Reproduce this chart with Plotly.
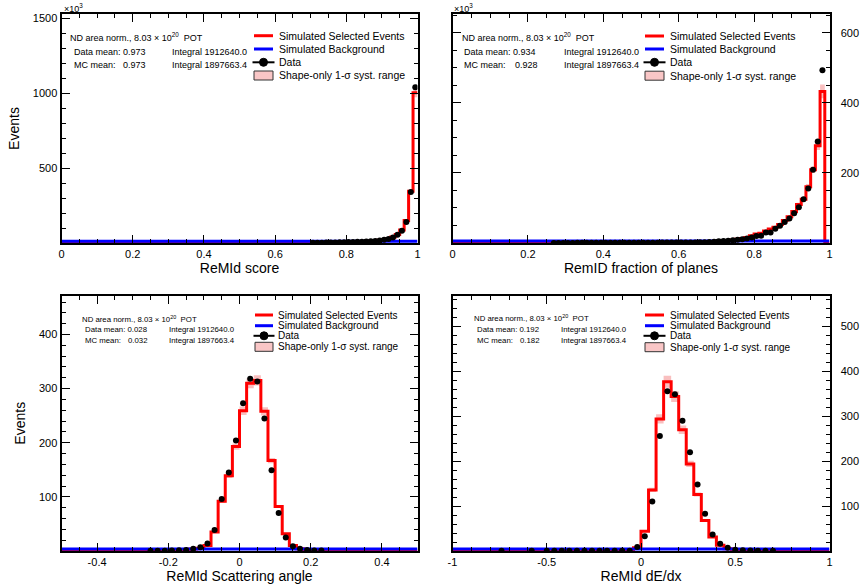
import numpy as np
import plotly.graph_objects as go

W, H = 868, 585
FONT = "Liberation Sans, Arial, Helvetica, sans-serif"

# ---------------- data ----------------
# Top-left: ReMId score (80 bins on [0,1]), events in units of 10^3
TL_NBINS, TL_LO, TL_HI = 80, 0.0, 1.0
TL_DATA_FIRST = 56
TL_DATA = [1.5, 2, 2.5, 3, 3.5, 4, 4.5, 5, 6, 7, 8, 9, 10, 12, 14, 17, 21, 27, 36, 55, 82, 140, 340, 1038]
TL_MC_FIRST = 56
TL_MC = [2, 2.5, 3, 3.5, 4, 4.5, 5, 5.5, 6.5, 7.5, 8.5, 9.5, 11, 13, 15, 18, 23, 29, 40, 57, 86, 150, 345, 1002]
TL_BKG = 12.0
TL_SYST = 0.03

# Top-right: RemID fraction of planes (80 bins on [0,1]), units of 10^3
TR_NBINS, TR_LO, TR_HI = 80, 0.0, 1.0
TR_DATA_FIRST = 21
TR_DATA = [0.3, 0.3, 0.3, 0.35, 0.35, 0.4, 0.4, 0.45, 0.45, 0.5, 0.5, 0.55, 0.6, 0.6, 0.65, 0.7, 0.75, 0.8, 0.85, 0.9,
           0.95, 1.0, 1.05, 1.1, 1.2, 1.25, 1.3, 1.4, 1.5, 1.6, 1.7,
           1.9, 2.4, 2.9, 3.8, 4.8, 5.7, 6.7, 7.6, 9.5, 11, 13, 16, 20, 21, 30, 30, 41, 49, 60, 70, 85, 102, 125, 156,
           209, 290, 493]
TR_MC_FIRST = 20
TR_MC = [4.0, 0.4, 0.4, 0.4, 0.45, 0.45, 0.5, 0.5, 0.55, 0.55, 0.6, 0.6, 0.65, 0.7, 0.7, 0.75, 0.8, 0.85, 0.9, 0.95, 1.0,
         1.05, 1.1, 1.15, 1.2, 1.3, 1.4, 1.5, 1.6, 1.7, 1.8, 2.0,
         2.3, 2.8, 3.3, 4, 5, 6, 7, 8.5, 10.5, 13, 16, 21, 26, 28, 34, 40, 45, 53, 64, 75, 90, 110, 125, 161, 209,
         278, 433]
TR_BKG = 5.5
TR_SYST = 0.045

# Bottom-left: ReMId scattering angle (50 bins on [-0.5,0.5])
BL_NBINS, BL_LO, BL_HI = 50, -0.5, 0.5
BL_DATA_FIRST = 12
BL_DATA = [0.5, 0.5, 0.6, 0.8, 1.2, 2, 4, 7, 14, 39, 96, 145, 204, 273, 318, 313, 245, 149, 70, 25, 9, 4, 2, 1, 0.7]
BL_MC_FIRST = 10
BL_MC = [0.3, 0.3, 0.4, 0.5, 0.6, 0.8, 1.3, 2.2, 3.5, 5, 10, 35, 92, 139, 193, 259, 310, 315, 258, 167, 82, 32, 10, 4,
         1.8, 1.2, 0.9, 0.7]
BL_BKG = 3.5
BL_SYST = 0.03

# Bottom-right: ReMId dE/dx (50 bins on [-1,1])
BR_NBINS, BR_LO, BR_HI = 50, -1.0, 1.0
BR_DATA_FIRST = 6
BR_DATA = [0.3, None, None, None, 0.3, None, 0.3, 0.3, 0.3, 0.3, 0.3, 0.3, 0.3, 0.3, 0.3, 0.3, 0.3, 0.3,
           9, 33, 110, 256, 356, 349, 290, 220, 148, 83, 37, 16, 7, 3, 1.5, 1, 0.8, 0.6, 0.5]
BR_MC_FIRST = 2
BR_MC = [0.8, 0.8, 0.8, 0.8, 0.8, 0.8, 0.8, 0.8, 0.8, 0.8, 0.8, 0.3, 0.3, 0.3, 0.3, 0.3, 0.3, 0.3, 0.3, 0.3, 0.3,
         2, 7, 44, 136, 294, 377, 344, 270, 194, 126, 68, 31, 13, 5, 2, 1, 0.6, 0.4]
BR_BKG = 4.5
BR_SYST = 0.035

STATS = {
    "TL": ("0.973", "0.973"),
    "TR": ("0.934", "0.928"),
    "BL": ("0.028", "0.032"),
    "BR": ("0.192", "0.182"),
}
DATA_INTEGRAL = "1912640.0"
MC_INTEGRAL = "1897663.4"

X_TITLES = {"TL": "ReMId score", "TR": "RemID fraction of planes",
            "BL": "ReMId Scattering angle", "BR": "ReMId dE/dx"}
X_TICKS = {
    "TL": ([0, 0.2, 0.4, 0.6, 0.8, 1.0], ["0", "0.2", "0.4", "0.6", "0.8", "1"]),
    "TR": ([0, 0.2, 0.4, 0.6, 0.8, 1.0], ["0", "0.2", "0.4", "0.6", "0.8", "1"]),
    "BL": ([-0.4, -0.2, 0, 0.2, 0.4], ["-0.4", "-0.2", "0", "0.2", "0.4"]),
    "BR": ([-1, -0.5, 0, 0.5, 1], ["-1", "-0.5", "0", "0.5", "1"]),
}
Y_TICKS = {
    "TL": ([500, 1000, 1500], ["500", "1000", "1500"]),
    "TR": ([200, 400, 600], ["200", "400", "600"]),
    "BL": ([100, 200, 300, 400], ["100", "200", "300", "400"]),
    "BR": ([100, 200, 300, 400, 500], ["100", "200", "300", "400", "500"]),
}
LEGEND_LABELS = ["Simulated Selected Events", "Simulated Background", "Data", "Shape-only 1-\u03c3 syst. range"]

# ---------------- layout geometry (pixels) ----------------
PANELS = {
    # key: (axis suffix, x0px, x1px, y0px(top), y1px(bottom), xrange, yrange, xminor, yminor)
    "TL": ("", 61.5, 417.5, 14, 243, [TL_LO, TL_HI], [0, 1527], 0.05, 100),
    "TR": ("2", 452.5, 829.5, 14, 243, [TR_LO, TR_HI], [0, 654], 0.05, 50),
    "BL": ("3", 61.5, 417.5, 295.5, 551, [BL_LO, BL_HI], [0, 472], 0.05, 20),
    "BR": ("4", 452.5, 829.5, 295.5, 551, [BR_LO, BR_HI], [0, 569], 0.1, 20),
}

def px(x):
    return x / W

def py(y):
    return 1 - y / H

def full(first, vals, n, fill):
    out = [fill] * n
    for i, v in enumerate(vals):
        out[first + i] = v
    return out

SETS = {
    "TL": (TL_NBINS, TL_LO, TL_HI, TL_DATA_FIRST, TL_DATA, TL_MC_FIRST, TL_MC, TL_BKG, TL_SYST),
    "TR": (TR_NBINS, TR_LO, TR_HI, TR_DATA_FIRST, TR_DATA, TR_MC_FIRST, TR_MC, TR_BKG, TR_SYST),
    "BL": (BL_NBINS, BL_LO, BL_HI, BL_DATA_FIRST, BL_DATA, BL_MC_FIRST, BL_MC, BL_BKG, BL_SYST),
    "BR": (BR_NBINS, BR_LO, BR_HI, BR_DATA_FIRST, BR_DATA, BR_MC_FIRST, BR_MC, BR_BKG, BR_SYST),
}

fig = go.Figure()
PINK = "rgba(248,180,180,0.85)"

for key, (n, lo, hi, dfirst, dvals, mfirst, mvals, bkg, syst) in SETS.items():
    suf = PANELS[key][0]
    xa, ya = "x" + suf, "y" + suf
    edges = np.linspace(lo, hi, n + 1)
    centers = 0.5 * (edges[:-1] + edges[1:])
    data = full(dfirst, dvals, n, None)
    mc = np.array(full(mfirst, mvals, n, 0.0), dtype=float)
    mc_step = np.append(mc, mc[-1])
    lower = mc_step * (1 - syst)
    upper = mc_step * (1 + syst)
    bkg_arr = np.full(n + 1, bkg)
    fig.add_trace(go.Scatter(x=edges, y=lower, mode="lines", line=dict(width=0, shape="hv"),
                             xaxis=xa, yaxis=ya, showlegend=False, hoverinfo="skip"))
    fig.add_trace(go.Scatter(x=edges, y=upper, mode="lines", line=dict(width=0, shape="hv"),
                             fill="tonexty", fillcolor=PINK, xaxis=xa, yaxis=ya,
                             name=LEGEND_LABELS[3], showlegend=False))
    fig.add_trace(go.Scatter(x=edges, y=mc_step, mode="lines", line=dict(color="#ff0000", width=3, shape="hv"),
                             xaxis=xa, yaxis=ya, name=LEGEND_LABELS[0], showlegend=False))
    fig.add_trace(go.Scatter(x=edges, y=bkg_arr, mode="lines", line=dict(color="#0000ff", width=3, shape="hv"),
                             xaxis=xa, yaxis=ya, name=LEGEND_LABELS[1], showlegend=False))
    fig.add_trace(go.Scatter(x=centers, y=data, mode="markers", marker=dict(color="black", size=6),
                             xaxis=xa, yaxis=ya, name=LEGEND_LABELS[2], showlegend=False))

layout = dict(
    template="none",
    width=W, height=H, margin=dict(l=0, r=0, t=0, b=0, pad=0),
    paper_bgcolor="white", plot_bgcolor="white",
    font=dict(family=FONT, color="black"),
    showlegend=False,
)

for key, (suf, x0, x1, yt, yb, xr, yr, xminor, yminor) in PANELS.items():
    right = key in ("TR", "BR")
    xtv, xtt = X_TICKS[key]
    ytv, ytt = Y_TICKS[key]
    common = dict(showline=True, linewidth=2, linecolor="black", mirror="allticks",
                  ticks="inside", ticklen=8, tickwidth=1, tickcolor="black",
                  showgrid=False, zeroline=False, automargin=False,
                  tickfont=dict(family=FONT, size=11, color="black"))
    layout["xaxis" + suf] = dict(
        domain=[px(x0), px(x1)], range=xr, anchor="y" + suf,
        tickmode="array", tickvals=xtv, ticktext=xtt,
        minor=dict(ticks="inside", ticklen=4, tickmode="linear", tick0=0, dtick=xminor,
                   tickcolor="black", showgrid=False),
        title=dict(text=X_TITLES[key], font=dict(family=FONT, size=14, color="black"),
                   standoff=3 if key in ("TL", "TR") else 1),
        **common)
    ydict = dict(
        domain=[py(yb), py(yt)], range=yr, anchor="x" + suf,
        tickmode="array", tickvals=ytv, ticktext=ytt,
        minor=dict(ticks="inside", ticklen=4, tickmode="linear", tick0=0, dtick=yminor,
                   tickcolor="black", showgrid=False),
        **common)
    if right:
        ydict["side"] = "right"
        ydict["ticklabelstandoff"] = 7
    else:
        ydict["title"] = dict(text="Events", font=dict(family=FONT, size=14, color="black"), standoff=10)
    layout["yaxis" + suf] = ydict

fig.update_layout(**layout)

# ---------------- text blocks, legends ----------------
ann = []
shapes = []

def text(x, y, s, size, anchor="left"):
    ann.append(dict(x=px(x), y=py(y), xref="paper", yref="paper", text=s, showarrow=False,
                    xanchor=anchor, yanchor="middle", font=dict(family=FONT, size=size, color="black")))

NB = "\u00a0"
# (ND x, ND y, mean x, row1 y, row2 y, MC value x, integral x, font size)
INFO = {
    "TL": (68, 37, 72, 51.5, 64.5, 121, 170, 9),
    "TR": (460, 37, 462, 51.5, 64.5, 513, 562, 9),
    "BL": (80, 319, 83, 329.5, 340, 125.5, 167, 7.8),
    "BR": (472, 318, 475, 329.5, 340, 518, 559, 7.8),
}
for key, (ndx, ndy, mx, r1, r2, mcx, ix, fs) in INFO.items():
    dmean, mcmean = STATS[key]
    text(ndx, ndy, "ND area norm., 8.03 \u00d7 10<sup>20</sup>" + NB + NB + "POT", fs)
    text(mx, r1, "Data mean: " + dmean, fs)
    text(ix, r1, "Integral " + DATA_INTEGRAL, fs)
    text(mx, r2, "MC mean:", fs)
    text(mcx, r2, mcmean, fs)
    text(ix, r2, "Integral " + MC_INTEGRAL, fs)

# legends: (line x0, line x1, text x, row ys, font size)
LEG = {
    "TL": (254, 273, 276.5, [35.7, 49, 62.3, 75.5], 10.5),
    "TR": (645, 664, 668, [36, 49, 62.3, 75.7], 10.5),
    "BL": (255, 273, 276, [315, 325.7, 335.8, 346.8], 10),
    "BR": (645, 664, 668, [315, 325.7, 335.8, 347.2], 10),
}
for key, (lx0, lx1, tx, rows, lfs) in LEG.items():
    shapes.append(dict(type="line", xref="paper", yref="paper", x0=px(lx0), x1=px(lx1),
                       y0=py(rows[0]), y1=py(rows[0]), line=dict(color="#ff0000", width=3)))
    shapes.append(dict(type="line", xref="paper", yref="paper", x0=px(lx0), x1=px(lx1),
                       y0=py(rows[1]), y1=py(rows[1]), line=dict(color="#0000ff", width=3)))
    shapes.append(dict(type="line", xref="paper", yref="paper", x0=px(lx0 - 1.5), x1=px(lx1 + 1.5),
                       y0=py(rows[2]), y1=py(rows[2]), line=dict(color="black", width=2)))
    cx = (lx0 + lx1) / 2
    shapes.append(dict(type="circle", xref="paper", yref="paper", xsizemode="pixel", ysizemode="pixel",
                       xanchor=px(cx), yanchor=py(rows[2]), x0=-4, x1=4, y0=-4, y1=4,
                       fillcolor="black", line=dict(color="black", width=1)))
    shapes.append(dict(type="rect", xref="paper", yref="paper", x0=px(lx0), x1=px(lx1),
                       y0=py(rows[3] + 4.5), y1=py(rows[3] - 4.5),
                       fillcolor="#f9c6c6", line=dict(color="#333333", width=1)))
    for lab, ry in zip(LEGEND_LABELS, rows):
        text(tx, ry, lab, lfs)

# x10^3 multipliers on the top panels
text(62, 8.5, "\u00d710<sup>3</sup>", 9)
text(452, 8.5, "\u00d710<sup>3</sup>", 9)

fig.update_layout(annotations=ann, shapes=shapes)
fig.write_html("out.html", config={"displayModeBar": False},
               post_script="document.body.style.margin='0px';")
